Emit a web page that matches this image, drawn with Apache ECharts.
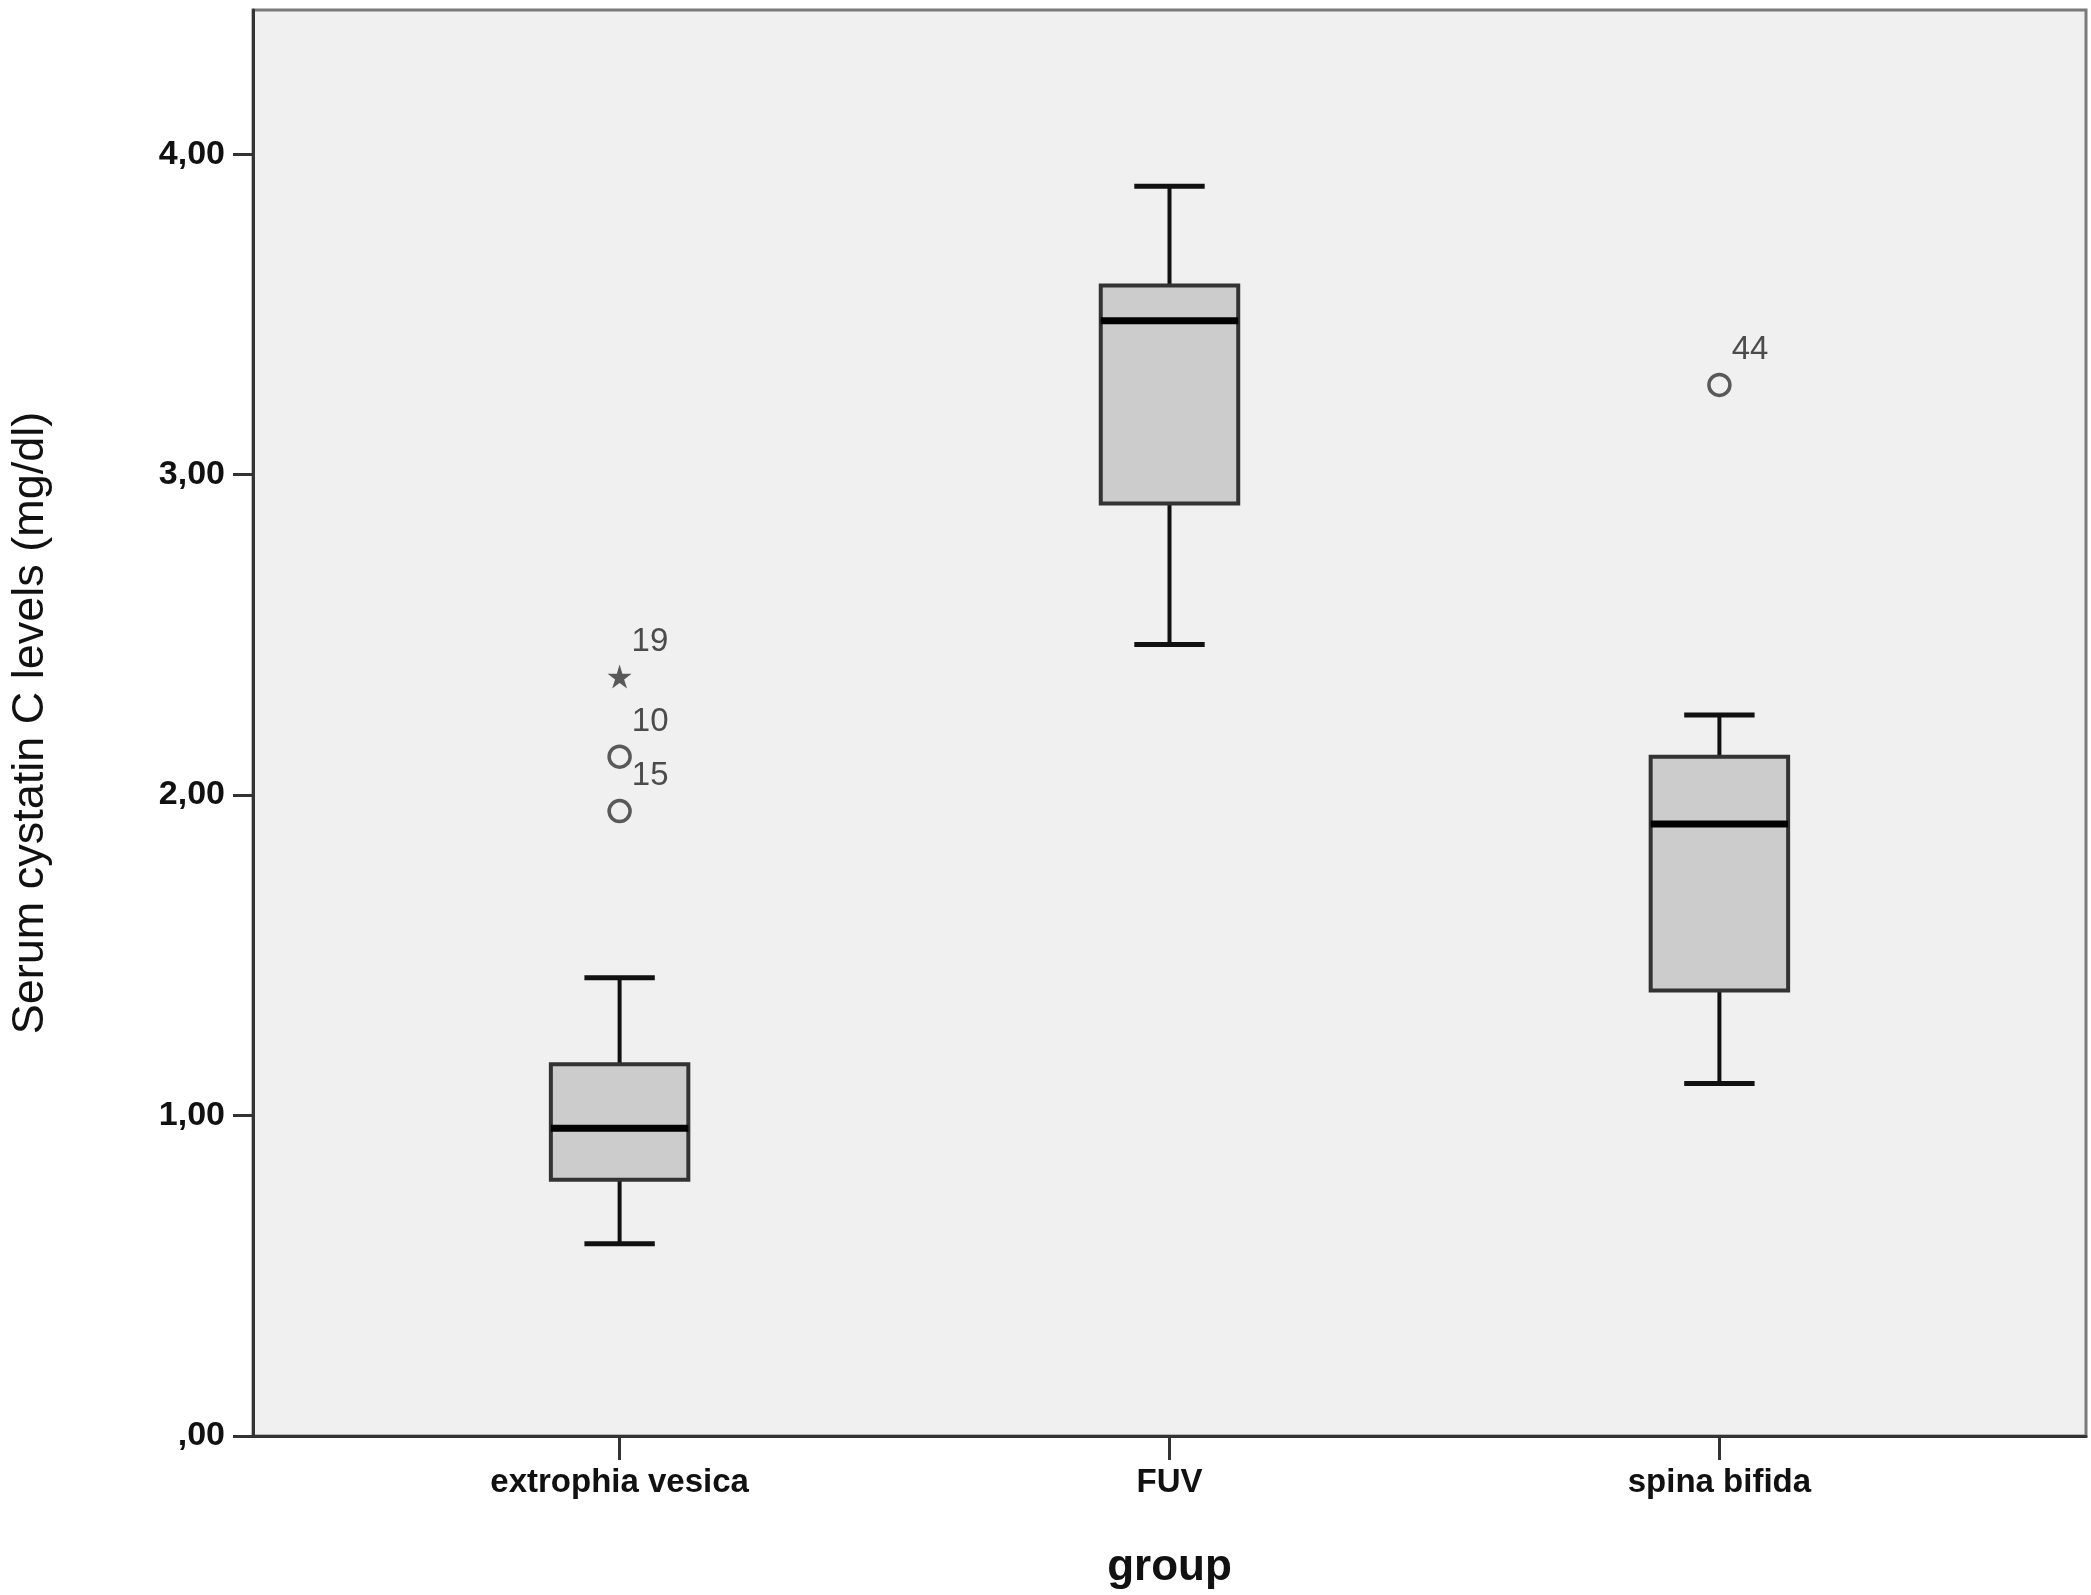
<!DOCTYPE html>
<html>
<head>
<meta charset="utf-8">
<script src="https://cdn.jsdelivr.net/npm/echarts@6/dist/echarts.min.js"></script>
<style>
html,body{margin:0;padding:0;background:#fff;}
#chart{width:2091px;height:1595px;}
</style>
</head>
<body>
<div id="chart"></div>
<script>
// ---- data ----
const categories = ['extrophia vesica', 'FUV', 'spina bifida'];
const whiskerLow  = [0.60, 2.47, 1.10];
const q1          = [0.80, 2.91, 1.39];
const median      = [0.96, 3.48, 1.91];
const q3          = [1.16, 3.59, 2.12];
const whiskerHigh = [1.43, 3.90, 2.25];

const outlierGroup = [0, 0, 0, 2];
const outlierValue = [2.37, 2.12, 1.95, 3.28];
const outlierCase  = ['19', '10', '15', '44'];
const outlierKind  = ['extreme', 'mild', 'mild', 'mild'];

const yTicks = [0, 1, 2, 3, 4];
const xTicks = [0, 1, 2];

// ---- build ----
const boxData = categories.map((c, i) => [i, whiskerLow[i], q1[i], median[i], q3[i], whiskerHigh[i]]);
const mildData = [], extremeData = [];
outlierValue.forEach((v, i) => {
  const item = { value: [outlierGroup[i], v], label: { formatter: outlierCase[i] } };
  (outlierKind[i] === 'extreme' ? extremeData : mildData).push(item);
});

const starPath = 'path://M0,-10 L2.2,-3.1 L9.5,-3.1 L3.6,1.2 L5.9,8.1 L0,3.9 L-5.9,8.1 L-3.6,1.2 L-9.5,-3.1 L-2.2,-3.1 Z';

const font = 'Liberation Sans, Arial, sans-serif';
const outlierLabel = {
  show: true, position: 'right', distance: 0, offset: [0, -35],
  fontFamily: font, fontSize: 33, color: '#222'
};

const chart = echarts.init(document.getElementById('chart'));
chart.setOption({
  backgroundColor: '#ffffff',
  animation: false,
  grid: {
    left: 250, right: 5, top: 10, bottom: 159,
    show: true, backgroundColor: '#f0f0f0', borderColor: '#7a7a7a', borderWidth: 3
  },
  xAxis: {
    type: 'value', min: -2/3, max: 8/3,
    splitLine: { show: false },
    axisLine: { show: true, onZero: false, lineStyle: { color: '#333', width: 3 } },
    axisTick: { show: true, customValues: xTicks, length: 24, lineStyle: { color: '#333', width: 3 } },
    axisLabel: {
      customValues: xTicks, margin: 30,
      fontFamily: font, fontSize: 33, fontWeight: 'bold', color: '#111',
      formatter: v => categories[Math.round(v)] || ''
    },
    name: 'group', nameLocation: 'middle', nameGap: 110,
    nameTextStyle: { fontFamily: font, fontSize: 44, fontWeight: 'bold', color: '#111' }
  },
  yAxis: {
    type: 'value', min: 0, max: 4.45,
    splitLine: { show: false },
    axisLine: { show: true, onZero: false, lineStyle: { color: '#333', width: 3 } },
    axisTick: { show: true, customValues: yTicks, length: 20, lineStyle: { color: '#333', width: 3 } },
    axisLabel: {
      customValues: yTicks, margin: 28,
      fontFamily: font, fontSize: 34, fontWeight: 'bold', color: '#111',
      formatter: v => v === 0 ? ',00' : v.toFixed(2).replace('.', ',')
    },
    name: 'Serum cystatin C levels (mg/dl)', nameLocation: 'middle', nameGap: 200,
    nameTextStyle: { fontFamily: font, fontSize: 45, color: '#111' }
  },
  series: [
    {
      type: 'custom',
      data: boxData,
      encode: { x: 0, y: [1, 2, 3, 4, 5] },
      renderItem: function (params, api) {
        const x = api.value(0);
        const pMin = api.coord([x, api.value(1)]);
        const pQ1 = api.coord([x, api.value(2)]);
        const pMed = api.coord([x, api.value(3)]);
        const pQ3 = api.coord([x, api.value(4)]);
        const pMax = api.coord([x, api.value(5)]);
        const band = api.size([1, 0])[0];
        const hb = band * 0.125;
        const hc = band * 0.064;
        const cx = pMed[0];
        const wl = { stroke: '#111', lineWidth: 4 };
        return {
          type: 'group',
          children: [
            { type: 'line', shape: { x1: cx, y1: pQ3[1], x2: cx, y2: pMax[1] }, style: wl },
            { type: 'line', shape: { x1: cx - hc, y1: pMax[1], x2: cx + hc, y2: pMax[1] }, style: { stroke: '#111', lineWidth: 5 } },
            { type: 'line', shape: { x1: cx, y1: pQ1[1], x2: cx, y2: pMin[1] }, style: wl },
            { type: 'line', shape: { x1: cx - hc, y1: pMin[1], x2: cx + hc, y2: pMin[1] }, style: { stroke: '#111', lineWidth: 5 } },
            { type: 'rect', shape: { x: cx - hb, y: pQ3[1], width: hb * 2, height: pQ1[1] - pQ3[1] },
              style: { fill: '#cccccc', stroke: '#333', lineWidth: 4 } },
            { type: 'line', shape: { x1: cx - hb, y1: pMed[1], x2: cx + hb, y2: pMed[1] }, style: { stroke: '#000', lineWidth: 7 } }
          ]
        };
      }
    },
    {
      type: 'scatter',
      data: mildData,
      symbol: 'circle', symbolSize: 21,
      itemStyle: { color: '#f0f0f0', borderColor: '#333', borderWidth: 3.5 },
      label: outlierLabel
    },
    {
      type: 'scatter',
      data: extremeData,
      symbol: starPath, symbolSize: 24,
      itemStyle: { color: '#333' },
      label: outlierLabel
    }
  ]
});
</script>
</body>
</html>
